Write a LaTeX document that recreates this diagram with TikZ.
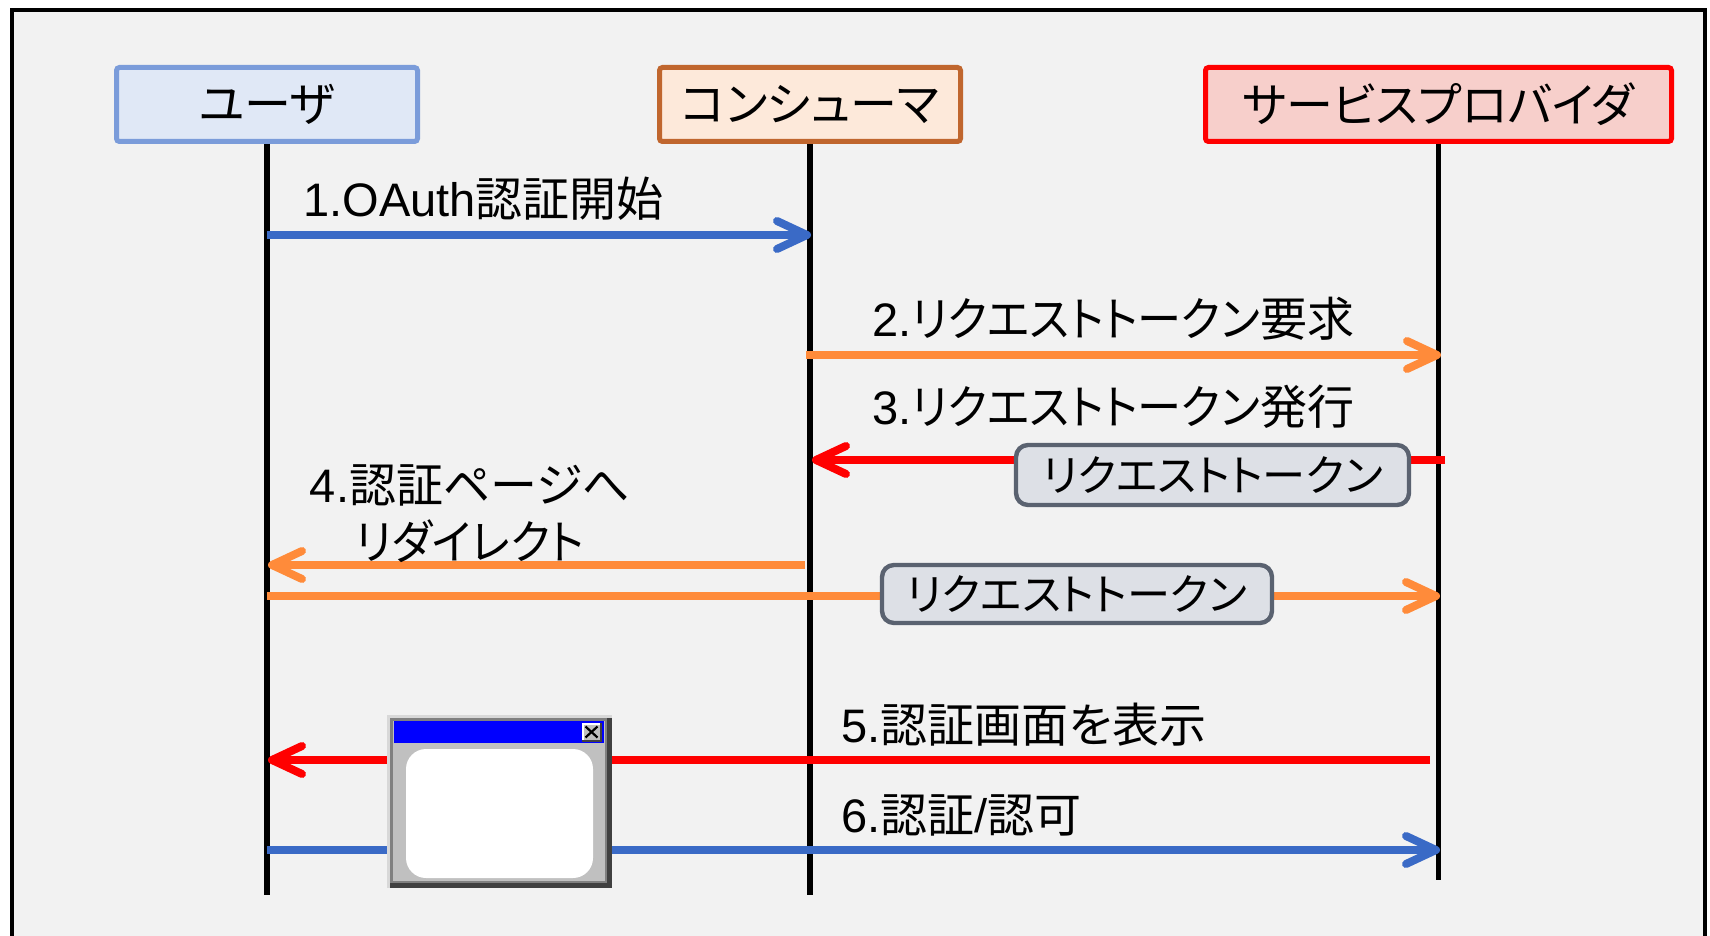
\documentclass[tikz,border=0pt]{standalone}
\usepackage{fontspec}
\setmainfont{Liberation Sans}
\newfontfamily\jp[RawFeature=+palt]{Noto Sans CJK JP}
\newfontfamily\jpk[RawFeature=+palt, FakeStretch=0.94]{Noto Sans CJK JP}
\usetikzlibrary{arrows.meta}
\newcommand\J[1]{{\jp #1}}
\newcommand\K[1]{{\jpk #1}}
\definecolor{bgc}{HTML}{F2F2F2}
\definecolor{ufill}{HTML}{E0E8F6}
\definecolor{uedge}{HTML}{7B9CDA}
\definecolor{cfill}{HTML}{FDE9DA}
\definecolor{cedge}{HTML}{C0662E}
\definecolor{sfill}{HTML}{F7CFCB}
\definecolor{sedge}{HTML}{FF0000}
\definecolor{mblue}{HTML}{3A6AC6}
\definecolor{morange}{HTML}{FF8B3A}
\definecolor{mred}{HTML}{FF0000}
\definecolor{tfill}{HTML}{DDE0E6}
\definecolor{tedge}{HTML}{5A6270}
\definecolor{wface}{HTML}{C0C0C0}
\definecolor{wlight}{HTML}{D8D8D8}
\definecolor{wmid}{HTML}{808080}
\definecolor{wdark}{HTML}{404040}
\definecolor{wtitle}{HTML}{0000FF}
\begin{document}
\begin{tikzpicture}[x=0.5pt,y=-0.5pt,
  every node/.style={font=\fontsize{23.5}{28.5}\selectfont},
  actor/.style={draw, line width=2.5pt, rounded corners=1.5pt, minimum width=150.5pt, minimum height=37pt, inner sep=0pt},
  lifeline/.style={line width=2.6pt, black},
  msg/.style={line width=4pt, -{Straight Barb[length=15pt,width=14pt,round]}},
  lbl/.style={anchor=base west, inner sep=0pt},
  token/.style={draw=tedge, fill=tfill, line width=2.2pt, rounded corners=6pt, minimum height=30pt, inner sep=0pt, font=\fontsize{21.6}{26}\selectfont}]
\useasboundingbox (0,0) rectangle (1710,936);
\clip (0,0) rectangle (1710,936);
\fill[white] (0,0) rectangle (1710,936);
\draw[line width=2pt, fill=bgc] (11.5,10) rectangle (1704.5,980);

% actors
\node[actor, draw=uedge, fill=ufill] (user) at (267,104.5) {\J{ユーザ}};
\node[actor, draw=cedge, fill=cfill] (cons) at (810,104.5) {\J{コンシューマ}};
\node[actor, draw=sedge, fill=sfill, minimum width=233pt] (sp) at (1438.5,104.5) {\J{サービスプロバイダ}};

% lifeline ends
\coordinate (ub) at (267,895);
\coordinate (cb) at (810,895);
\coordinate (sb) at (1438.5,880);
\draw[lifeline] (user.south) -- (ub);
\draw[lifeline] (cons.south) -- (cb);
\draw[lifeline] (sp.south) -- (sb);

% message anchor points
\coordinate (u1) at (267,235);   \coordinate (c1) at (811,235);
\coordinate (c2) at (806,355);   \coordinate (s2) at (1441,355);
\coordinate (s3) at (1445,460);  \coordinate (c3) at (812,460);
\coordinate (c4) at (805,565);   \coordinate (u4) at (268,565);
\coordinate (u5) at (267,596);   \coordinate (s5) at (1440,596);
\coordinate (s6) at (1430,760);  \coordinate (u6) at (268,760);
\coordinate (u7) at (267,850);   \coordinate (s7) at (1440,850);

\draw[msg, mblue] (u1) -- (c1);
\draw[msg, morange] (c2) -- (s2);
\draw[msg, mred] (s3) -- (c3);
\draw[msg, morange] (c4) -- (u4);
\draw[msg, morange] (u5) -- (s5);
\draw[msg, mred] (s6) -- (u6);
\draw[msg, mblue] (u7) -- (s7);

% labels
\node[lbl] (l1) at (303,217) {1.OAuth\J{認証開始}};
\node[lbl] (l2) at (872,337) {2.\K{リクエストトークン}\J{要求}};
\node[lbl] (l3) at (872,425) {3.\K{リクエストトークン}\J{発行}};
\node[align=center, inner sep=0pt] (l4) at (470,514) {4.\J{認証ページへ}\\\K{リダイレクト}};
\node[lbl] (l5) at (841,742) {5.\J{認証画面を表示}};
\node[lbl] (l6) at (841,832) {6.\J{認証}/\J{認可}};

% token boxes
\node[token, minimum width=196.5pt] (t1) at (1212.5,475) {\J{リクエストトークン}};
\node[token, minimum width=195pt, minimum height=29pt] (t2) at (1077,594) {\J{リクエストトークン}};

% window icon
\fill[wlight] (387,715) rectangle (612,888);
\fill[wdark] (390,718) rectangle (612,888);
\fill[wmid] (390,718) rectangle (607,883);
\fill[wface] (393,720.5) rectangle (604.5,880.5);
\fill[wtitle] (394,721) rectangle (604,743);
\fill[wdark] (582,723) rectangle (601.5,741.5);
\fill[white] (582,723) rectangle (600,740);
\fill[wface] (583.5,724.5) rectangle (600,740);
\draw[line width=1.1pt, black] (585.5,726.5) -- (597.5,737.5) (585.5,737.5) -- (597.5,726.5);
\fill[white, rounded corners=10pt] (406,749) rectangle (593,878);
\end{tikzpicture}
\end{document}
